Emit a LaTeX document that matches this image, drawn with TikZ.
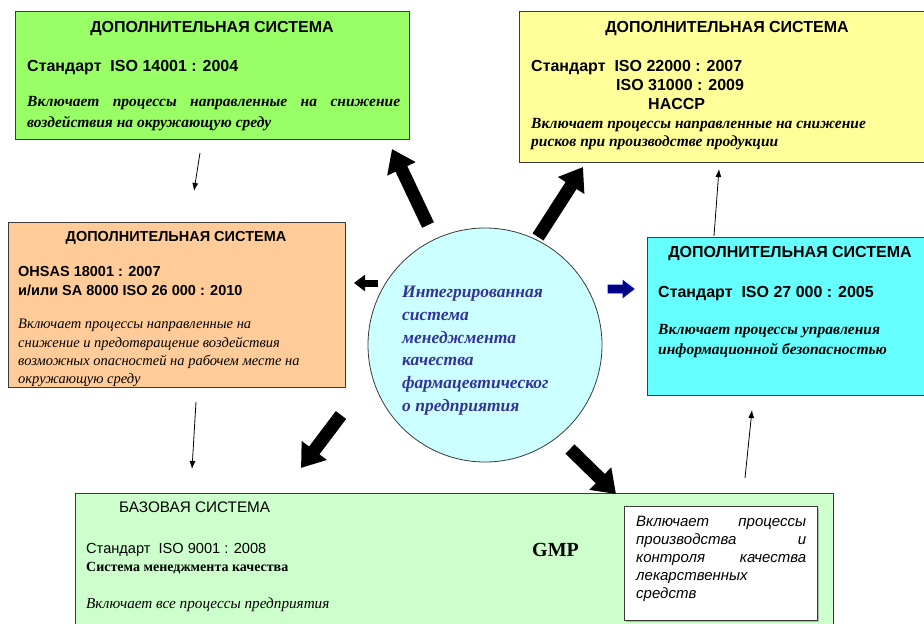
\documentclass[tikz,border=0pt]{standalone}
\usepackage{fontspec}
\setmainfont{Liberation Serif}
\setsansfont{Liberation Sans}
\usetikzlibrary{arrows.meta,shadows}

\definecolor{boxgreen}{HTML}{99FF66}
\definecolor{boxyellow}{HTML}{FFFF99}
\definecolor{boxorange}{HTML}{FFCC99}
\definecolor{boxcyan}{HTML}{66FFFF}
\definecolor{basegreen}{HTML}{CCFFCC}
\definecolor{circfill}{HTML}{CCFFFF}
\definecolor{circtext}{HTML}{333399}
\definecolor{edge}{HTML}{3A3A3A}
\definecolor{navyarrow}{HTML}{000080}
\definecolor{bluerim}{HTML}{0000E0}

\newcommand\fsz[1]{\fontsize{#1}{#1}\selectfont}

\begin{document}
\begin{tikzpicture}[x=1pt,y=-1pt,
  panel/.style={draw=edge, line width=1.3pt, inner sep=0pt, anchor=north west},
  txt/.style={inner sep=0pt, anchor=base west},
  head/.style={inner sep=0pt, anchor=base, font=\sffamily\bfseries\fsz{16}},
  std/.style={txt, font=\sffamily\bfseries\fsz{16}},
  note/.style={txt, font=\rmfamily\bfseries\itshape\fsz{15.5}},
  onote/.style={txt, font=\rmfamily\itshape\fsz{14.5}},
  ctext/.style={txt, font=\rmfamily\bfseries\itshape\fsz{17.5}, text=circtext},
  gtext/.style={txt, font=\sffamily\itshape\fsz{15}},
  bigarrow/.style={line width=13pt, -{Triangle[width=30pt,length=22pt]}},
  smallarrow/.style={line width=7pt, -{Triangle[width=16pt,length=11pt]}},
  thinarrow/.style={line width=0.8pt, -{Latex[length=8pt,width=6pt]}}
]
\clip (0,0) rectangle (924,624);
\fill[white] (0,0) rectangle (924,624);

% ---------- panels ----------
\node[panel, fill=boxgreen, minimum width=394pt, minimum height=128pt] (green) at (15,11) {};
\node[panel, fill=boxyellow, minimum width=420pt, minimum height=151pt] (yellow) at (519,11) {};
\node[panel, fill=boxorange, minimum width=337pt, minimum height=165pt] (orange) at (8,222) {};
\node[panel, fill=boxcyan, minimum width=290pt, minimum height=158pt] (cyan) at (647,237) {};
\node[panel, fill=basegreen, minimum width=758pt, minimum height=150pt] (base) at (75,493) {};
\node[panel, fill=white, line width=1pt, minimum width=193pt, minimum height=114pt,
      drop shadow={shadow xshift=1.5pt, shadow yshift=-1.5pt, fill=gray}] (gmpnote) at (624,506) {};

% ---------- central circle ----------
\node[circle, draw=edge, line width=0.8pt, fill=circfill, minimum size=234pt, inner sep=0pt] (core) at (485,345) {};

% ---------- texts: environmental system ----------
\node[head] (gT) at (212,32) {ДОПОЛНИТЕЛЬНАЯ СИСТЕМА};
\node[std] (gS) at (27,71) {Стандарт\ \ ISO 14001 : 2004};
\node[note] (gN1) at (27,106) {\makebox[373pt][s]{Включает процессы направленные на снижение}};
\node[note] (gN2) at (27,127) {воздействия на окружающую среду};

% ---------- texts: food safety / risk system ----------
\node[head] (yT) at (727,32) {ДОПОЛНИТЕЛЬНАЯ СИСТЕМА};
\node[std] (yS1) at (531,71) {Стандарт\ \ ISO 22000 : 2007};
\node[std] (yS2) at (616,90) {ISO 31000 : 2009};
\node[std] (yS3) at (648,109) {HACCP};
\node[note] (yN1) at (531,128) {Включает процессы направленные на снижение};
\node[note] (yN2) at (531,146) {рисков при производстве продукции};

% ---------- texts: occupational safety system ----------
\node[head, font=\sffamily\bfseries\fsz{14.5}] (oT) at (176,241) {ДОПОЛНИТЕЛЬНАЯ СИСТЕМА};
\node[std, font=\sffamily\bfseries\fsz{14.5}] (oS1) at (18,276) {OHSAS 18001 : 2007};
\node[std, font=\sffamily\bfseries\fsz{14.5}] (oS2) at (18,295) {и/или SA 8000 ISO 26 000 : 2010};
\node[onote] (oN1) at (18,328) {Включает процессы направленные на};
\node[onote] (oN2) at (18,347) {снижение и предотвращение воздействия};
\node[onote] (oN3) at (18,365) {возможных опасностей на рабочем месте на};
\node[onote] (oN4) at (18,383) {окружающую среду};

% ---------- texts: information security system ----------
\node[head] (cT) at (790,257) {ДОПОЛНИТЕЛЬНАЯ СИСТЕМА};
\node[std] (cS) at (658,297) {Стандарт\ \ ISO 27 000 : 2005};
\node[note] (cN1) at (658,334) {Включает процессы управления};
\node[note] (cN2) at (658,354) {информационной безопасностью};

% ---------- texts: base system ----------
\node[txt, font=\sffamily\fsz{15.3}] (bT) at (119,512) {БАЗОВАЯ СИСТЕМА};
\node[txt, font=\sffamily\fsz{14.6}] (bS) at (86,553) {Стандарт\ \ ISO 9001 : 2008};
\node[txt, font=\rmfamily\bfseries\fsz{14}] (bQ) at (86,571) {Система менеджмента качества};
\node[txt, font=\rmfamily\itshape\fsz{15.2}] (bN) at (86,608) {Включает все процессы предприятия};
\node[txt, font=\rmfamily\bfseries\fsz{20}] (bG) at (532,556) {GMP};

\node[gtext] (mN1) at (636,526) {\makebox[170pt][s]{Включает процессы}};
\node[gtext] (mN2) at (636,544) {\makebox[170pt][s]{производства и}};
\node[gtext] (mN3) at (636,562) {\makebox[170pt][s]{контроля качества}};
\node[gtext] (mN4) at (636,580) {лекарственных};
\node[gtext] (mN5) at (636,598) {средств};

% ---------- texts: circle ----------
\node[ctext] (k1) at (402,297) {Интегрированная};
\node[ctext] (k2) at (402,320) {система};
\node[ctext] (k3) at (402,343) {менеджмента};
\node[ctext] (k4) at (402,365) {качества};
\node[ctext] (k5) at (402,388) {фармацевтическог};
\node[ctext] (k6) at (402,411) {о предприятия};

% ---------- block arrows from the circle ----------
\coordinate (aS) at (428,225);  \coordinate (aE) at (392,149);
\coordinate (bS) at (538,237);  \coordinate (bE) at (583,167);
\coordinate (cS) at (378,283);  \coordinate (cE) at (354,283);
\coordinate (eS) at (341,415);  \coordinate (eE) at (301,468);
\coordinate (fS) at (570,449);  \coordinate (fE) at (616,494);
\draw[bigarrow] (aS) -- (aE);
\draw[bigarrow] (bS) -- (bE);
\draw[smallarrow] (cS) -- (cE);
\draw[bigarrow] (eS) -- (eE);
\draw[bigarrow] (fS) -- (fE);
% blue block arrow pointing to the information security panel
\filldraw[draw=bluerim, fill=navyarrow, line width=0.8pt, line join=miter]
  (608,285) -- (623,285) -- (623,280.5) -- (634,289) -- (623,297.5) -- (623,293) -- (608,293) -- cycle;

% ---------- thin links between panels ----------
\coordinate (t1S) at (200,153); \coordinate (t1E) at (194,191);
\coordinate (t2S) at (196,402); \coordinate (t2E) at (192,469);
\coordinate (t3S) at (714,236); \coordinate (t3E) at (719,169);
\coordinate (t4S) at (745,478); \coordinate (t4E) at (752,410);
\draw[thinarrow] (t1S) -- (t1E);
\draw[thinarrow] (t2S) -- (t2E);
\draw[thinarrow] (t3S) -- (t3E);
\draw[thinarrow] (t4S) -- (t4E);
\end{tikzpicture}
\end{document}
